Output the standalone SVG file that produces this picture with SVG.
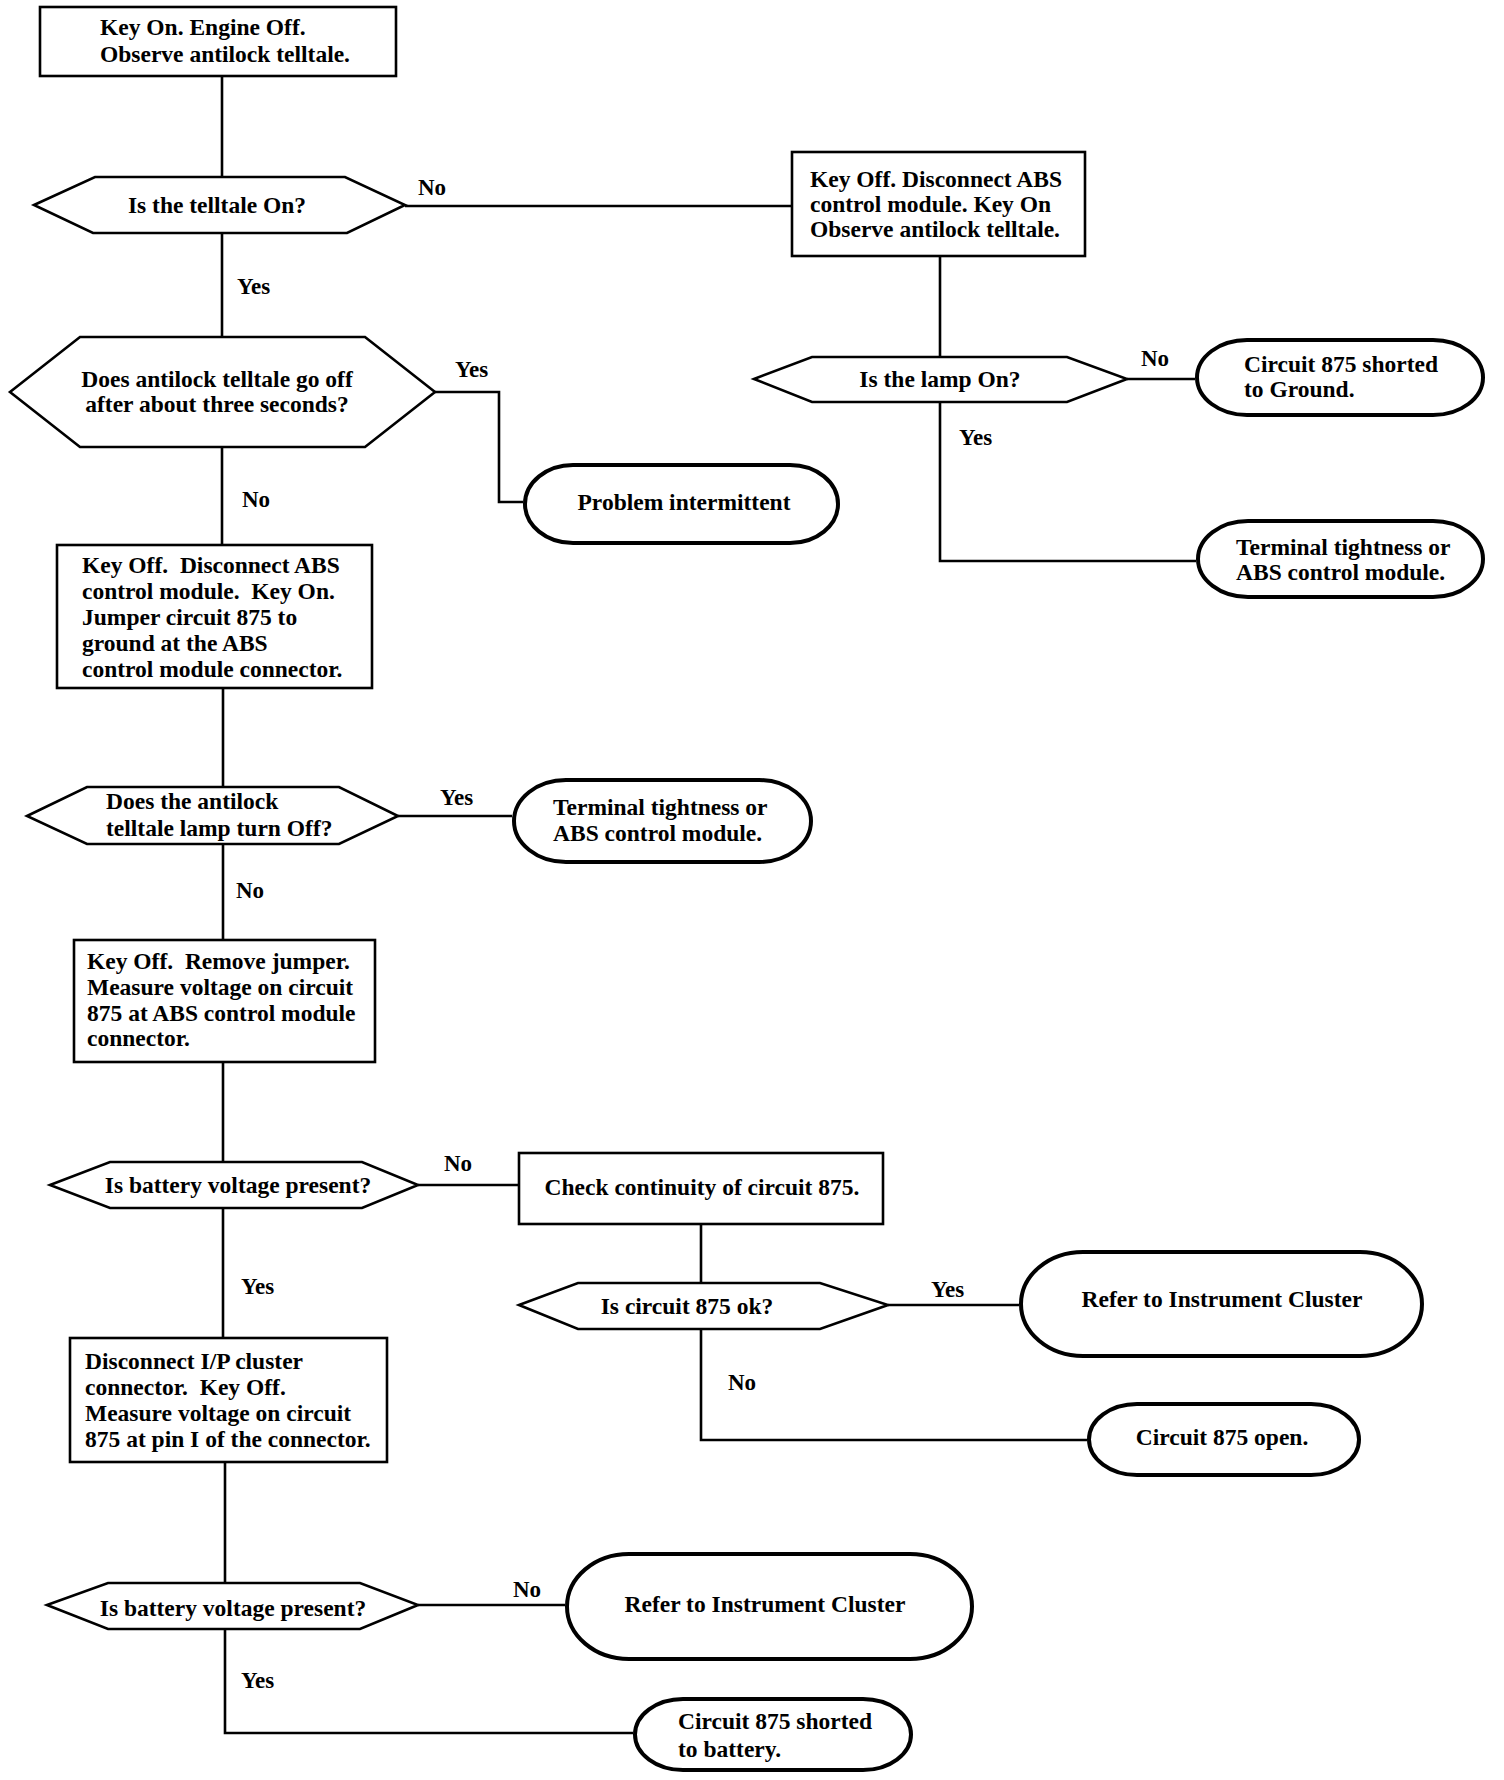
<svg xmlns="http://www.w3.org/2000/svg" width="1504" height="1780" viewBox="0 0 1504 1780">
<style>
  .bg{fill:#fff}
  .box{fill:#fff;stroke:#000;stroke-width:2.6}
  .hex{fill:#fff;stroke:#000;stroke-width:2.6;stroke-linejoin:miter}
  .term{fill:#fff;stroke:#000;stroke-width:4}
  .wire{fill:none;stroke:#000;stroke-width:2.6}
  text{font-family:"Liberation Serif","Times New Roman",serif;font-weight:bold;font-size:23.5px;fill:#000}
  .c{text-anchor:middle}
  .lbl{font-size:23px}
</style>
<rect class="bg" x="0" y="0" width="1504" height="1780"/>

<g id="connectors">
  <path class="wire" d="M222,76 V177"/>
  <path class="wire" d="M222,233 V337"/>
  <path class="wire" d="M405,206 H792"/>
  <path class="wire" d="M435,392 H499 V502 H523"/>
  <path class="wire" d="M222,447 V545"/>
  <path class="wire" d="M223,688 V787"/>
  <path class="wire" d="M398,816 H512"/>
  <path class="wire" d="M223,844 V940"/>
  <path class="wire" d="M223,1062 V1162"/>
  <path class="wire" d="M418,1185 H519"/>
  <path class="wire" d="M223,1208 V1338"/>
  <path class="wire" d="M225,1462 V1583"/>
  <path class="wire" d="M418,1605 H565"/>
  <path class="wire" d="M225,1629 V1733 H633"/>
  <path class="wire" d="M940,256 V357"/>
  <path class="wire" d="M1127,379 H1195"/>
  <path class="wire" d="M940,402 V561 H1196"/>
  <path class="wire" d="M701,1224 V1283"/>
  <path class="wire" d="M888,1305 H1019"/>
  <path class="wire" d="M701,1329 V1440 H1087"/>
  <text class="lbl" x="418" y="195">No</text>
  <text class="lbl" x="237" y="294">Yes</text>
  <text class="lbl" x="455" y="377">Yes</text>
  <text class="lbl" x="242" y="507">No</text>
  <text class="lbl" x="1141" y="366">No</text>
  <text class="lbl" x="959" y="445">Yes</text>
  <text class="lbl" x="440" y="805">Yes</text>
  <text class="lbl" x="236" y="898">No</text>
  <text class="lbl" x="444" y="1171">No</text>
  <text class="lbl" x="241" y="1294">Yes</text>
  <text class="lbl" x="931" y="1297">Yes</text>
  <text class="lbl" x="728" y="1390">No</text>
  <text class="lbl" x="513" y="1597">No</text>
  <text class="lbl" x="241" y="1688">Yes</text>
</g>

<g id="start">
  <rect class="box" x="40" y="7" width="356" height="69"/>
  <text x="100" y="35">Key On. Engine Off.</text>
  <text x="100" y="62">Observe antilock telltale.</text>
</g>

<g id="q-telltale-on">
  <polygon class="hex" points="34,205 95,177 345,177 405,205 347,233 93,233"/>
  <text class="c" x="217" y="213">Is the telltale On?</text>
</g>

<g id="q-goes-off">
  <polygon class="hex" points="10,392 80,337 365,337 435,392 365,447 80,447"/>
  <text class="c" x="217" y="387">Does antilock telltale go off</text>
  <text class="c" x="217" y="412">after about three seconds?</text>
</g>

<g id="t-intermittent">
  <rect class="term" x="525" y="465" width="313" height="78" rx="48" ry="39"/>
  <text class="c" x="684" y="510">Problem intermittent</text>
</g>

<g id="step-disconnect-observe">
  <rect class="box" x="792" y="152" width="293" height="104"/>
  <text x="810" y="187">Key Off. Disconnect ABS</text>
  <text x="810" y="212">control module. Key On</text>
  <text x="810" y="237">Observe antilock telltale.</text>
</g>

<g id="q-lamp-on">
  <polygon class="hex" points="754,379 812,357 1067,357 1127,379 1067,402 812,402"/>
  <text class="c" x="940" y="387">Is the lamp On?</text>
</g>

<g id="t-shorted-ground">
  <rect class="term" x="1197" y="340" width="286" height="75" rx="50" ry="37.5"/>
  <text x="1244" y="372">Circuit 875 shorted</text>
  <text x="1244" y="397">to Ground.</text>
</g>

<g id="t-terminal-1">
  <rect class="term" x="1198" y="521" width="285" height="76" rx="50" ry="38"/>
  <text x="1236" y="555">Terminal tightness or</text>
  <text x="1236" y="580">ABS control module.</text>
</g>

<g id="step-jumper">
  <rect class="box" x="57" y="545" width="315" height="143"/>
  <text x="82" y="573" xml:space="preserve">Key Off.  Disconnect ABS</text>
  <text x="82" y="599" xml:space="preserve">control module.  Key On.</text>
  <text x="82" y="625">Jumper circuit 875 to</text>
  <text x="82" y="651">ground at the ABS</text>
  <text x="82" y="677">control module connector.</text>
</g>

<g id="q-lamp-off">
  <polygon class="hex" points="27,816 87,787 339,787 398,816 339,844 87,844"/>
  <text x="106" y="809">Does the antilock</text>
  <text x="106" y="836">telltale lamp turn Off?</text>
</g>

<g id="t-terminal-2">
  <rect class="term" x="514" y="780" width="297" height="82" rx="52" ry="41"/>
  <text x="553" y="815">Terminal tightness or</text>
  <text x="553" y="841">ABS control module.</text>
</g>

<g id="step-remove-jumper">
  <rect class="box" x="74" y="940" width="301" height="122"/>
  <text x="87" y="969" xml:space="preserve">Key Off.  Remove jumper.</text>
  <text x="87" y="995">Measure voltage on circuit</text>
  <text x="87" y="1021">875 at ABS control module</text>
  <text x="87" y="1046">connector.</text>
</g>

<g id="q-battery-1">
  <polygon class="hex" points="50,1185 110,1162 362,1162 418,1185 362,1208 110,1208"/>
  <text class="c" x="238" y="1193">Is battery voltage present?</text>
</g>

<g id="step-continuity">
  <rect class="box" x="519" y="1153" width="364" height="71"/>
  <text class="c" x="702" y="1195">Check continuity of circuit 875.</text>
</g>

<g id="q-circuit-ok">
  <polygon class="hex" points="519,1305 578,1283 820,1283 888,1305 820,1329 578,1329"/>
  <text class="c" x="687" y="1314">Is circuit 875 ok?</text>
</g>

<g id="t-refer-1">
  <rect class="term" x="1021" y="1252" width="401" height="104" rx="62" ry="52"/>
  <text class="c" x="1222" y="1307">Refer to Instrument Cluster</text>
</g>

<g id="t-open">
  <rect class="term" x="1089" y="1404" width="270" height="71" rx="48" ry="35.5"/>
  <text class="c" x="1222" y="1445">Circuit 875 open.</text>
</g>

<g id="step-ip-cluster">
  <rect class="box" x="70" y="1338" width="317" height="124"/>
  <text x="85" y="1369">Disconnect I/P cluster</text>
  <text x="85" y="1395" xml:space="preserve">connector.  Key Off.</text>
  <text x="85" y="1421">Measure voltage on circuit</text>
  <text x="85" y="1447">875 at pin I of the connector.</text>
</g>

<g id="q-battery-2">
  <polygon class="hex" points="47,1605 108,1583 360,1583 418,1605 360,1629 108,1629"/>
  <text class="c" x="233" y="1616">Is battery voltage present?</text>
</g>

<g id="t-refer-2">
  <rect class="term" x="567" y="1554" width="405" height="105" rx="62" ry="52.5"/>
  <text class="c" x="765" y="1612">Refer to Instrument Cluster</text>
</g>

<g id="t-shorted-battery">
  <rect class="term" x="635" y="1699" width="276" height="71" rx="48" ry="35.5"/>
  <text x="678" y="1729">Circuit 875 shorted</text>
  <text x="678" y="1757">to battery.</text>
</g>
</svg>
